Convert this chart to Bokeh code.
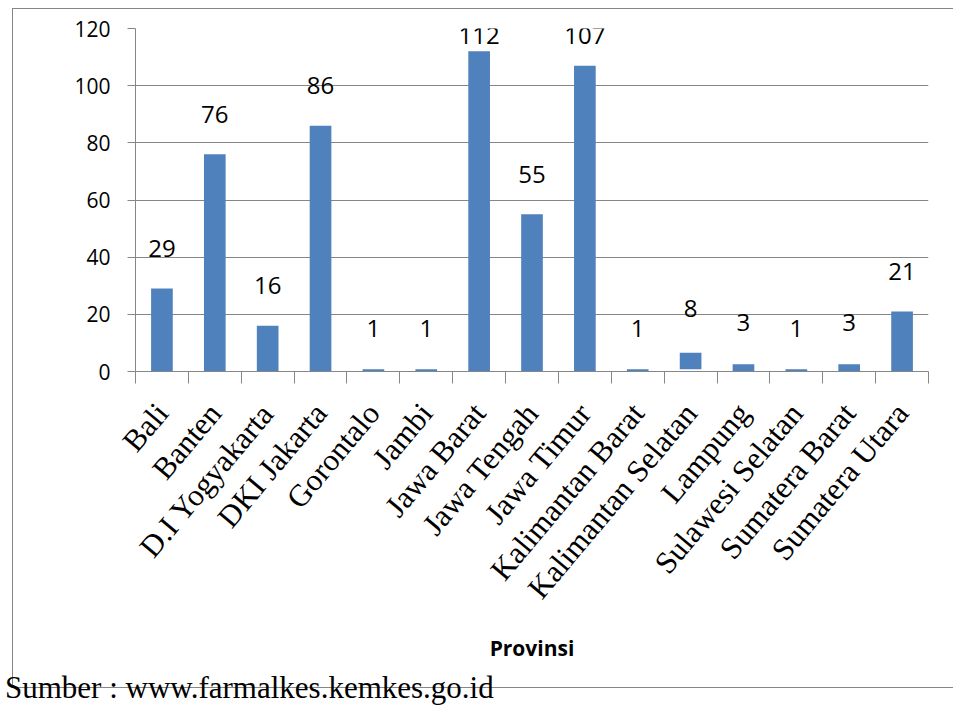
import math
from bokeh.plotting import figure
from bokeh.models import FixedTicker, Range1d, ColumnDataSource, Div
from bokeh.layouts import column
from bokeh.core.properties import value
from bokeh.embed import file_html
from bokeh.resources import INLINE

# ---- data ----
provinces = ["Bali", "Banten", "D.I Yogyakarta", "DKI Jakarta", "Gorontalo", "Jambi",
             "Jawa Barat", "Jawa Tengah", "Jawa Timur", "Kalimantan Barat",
             "Kalimantan Selatan", "Lampung", "Sulawesi Selatan", "Sumatera Barat",
             "Sumatera Utara"]
counts = [29, 76, 16, 86, 1, 1, 112, 55, 107, 1, 8, 3, 1, 3, 21]
bar_tops = [29, 76, 16, 86, 0.8, 0.8, 112, 55, 107, 0.8, 6.6, 2.5, 0.8, 2.5, 21]
bar_bottoms = [0, 0, 0, 0, 0, 0, 0, 0, 0, 0, 0.8, 0, 0, 0, 0]
y_ticks = [0, 20, 40, 60, 80, 100, 120]
x_title = "Provinsi"
source_note = "Sumber : www.farmalkes.kemkes.go.id"

GRAY = "#868686"
BLUE = "#4F81BD"

xs = [i + 0.5 for i in range(len(provinces))]
label_y = [min(c + 14, 117.5) for c in counts]

src = ColumnDataSource(dict(x=xs, top=bar_tops, bottom=bar_bottoms,
                            ly=label_y, txt=[str(c) for c in counts]))

p = figure(width=941, height=680, output_backend="svg", toolbar_location=None,
           x_range=Range1d(0, len(provinces)), y_range=Range1d(0, 120),
           min_border_left=122, min_border_right=26, min_border_top=19,
           min_border_bottom=318)
p.margin = (8, 0, 0, 12)
p.styles = {"border-top": "1.5px solid #868686",
            "border-left": "1.5px solid #868686",
            "border-bottom": "1.5px solid #868686"}
p.outline_line_color = None
p.background_fill_color = "white"
p.border_fill_color = "white"

p.vbar(x="x", top="top", bottom="bottom", width=0.41, source=src,
       fill_color=BLUE, line_color=None)
p.text(x="x", y="ly", text="txt", source=src, text_align="center",
       text_baseline="middle", text_font=value("Open Sans"),
       text_font_size="24px", text_color="black")

# grid
p.xgrid.visible = False
p.ygrid.ticker = FixedTicker(ticks=y_ticks)
p.ygrid.grid_line_color = GRAY
p.ygrid.grid_line_width = 1

# y axis
ya = p.yaxis[0]
ya.ticker = FixedTicker(ticks=y_ticks)
ya.axis_line_color = GRAY
ya.major_tick_line_color = GRAY
ya.major_tick_out = 8
ya.major_tick_in = 0
ya.minor_tick_line_color = None
ya.major_label_text_font = "Open Sans"
ya.major_label_text_font_size = "21px"
ya.major_label_text_color = "black"
ya.major_label_standoff = 17

# x axis
xa = p.xaxis[0]
xa.ticker = FixedTicker(ticks=xs, minor_ticks=list(range(len(provinces) + 1)))
xa.major_label_overrides = {x: name for x, name in zip(xs, provinces)}
xa.axis_line_color = GRAY
xa.major_tick_line_color = None
xa.major_tick_out = 0
xa.major_tick_in = 0
xa.minor_tick_line_color = GRAY
xa.minor_tick_out = 12
xa.minor_tick_in = 0
xa.major_label_orientation = math.radians(50)
xa.major_label_text_font = "Liberation Serif"
xa.major_label_text_font_size = "31px"
xa.major_label_text_color = "black"
xa.major_label_standoff = 24
xa.axis_label = x_title
xa.axis_label_text_font = "Open Sans"
xa.axis_label_text_font_style = "bold"
xa.axis_label_text_font_size = "21px"
xa.axis_label_text_color = "black"
xa.axis_label_standoff = 14

note = Div(text=source_note, margin=(-16, 0, 0, 5),
           styles={"font-family": "'Liberation Serif', serif", "font-size": "31px",
                   "line-height": "1", "color": "black", "white-space": "nowrap"})

layout = column(p, note)
open("out.html", "w").write(file_html(layout, INLINE))
